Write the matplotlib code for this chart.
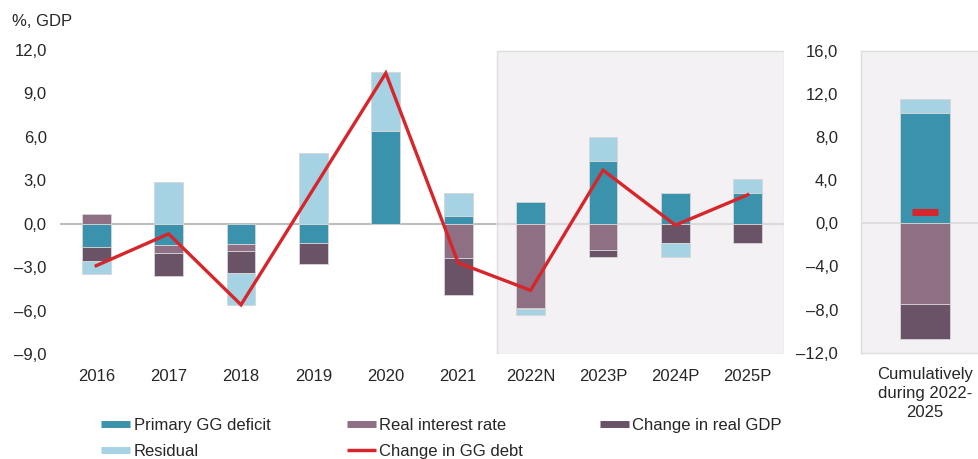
import matplotlib
matplotlib.use("Agg")
import matplotlib.pyplot as plt
import numpy as np
from matplotlib.patches import Rectangle
from matplotlib.lines import Line2D

plt.rcParams['font.family'] = ['Liberation Sans', 'DejaVu Sans']

years = ['2016', '2017', '2018', '2019', '2020', '2021', '2022N', '2023P', '2024P', '2025P']
primary = [-1.6, -1.5, -1.4, -1.3, 6.4, 0.5, 1.5, 4.3, 2.1, 2.1]
real_int = [0.7, -0.5, -0.5, 0.0, 0.0, -2.4, -5.8, -1.8, 0.0, 0.0]
gdp = [-1.0, -1.6, -1.5, -1.5, 0.0, -2.5, -0.1, -0.5, -1.3, -1.3]
residual = [-0.9, 2.9, -2.2, 4.9, 4.1, 1.6, -0.4, 1.7, -1.0, 1.0]
debt = [-2.9, -0.7, -5.6, 2.4, 10.4, -2.7, -4.6, 3.7, -0.1, 2.0]

cum_label = 'Cumulatively\nduring 2022-\n2025'
cum_primary = 10.2
cum_real_int = -7.5
cum_gdp = -3.2
cum_residual = 1.3
cum_debt = 1.0

series_names = ['Primary GG deficit', 'Real interest rate', 'Change in real GDP', 'Residual']
debt_name = 'Change in GG debt'

C_PRIM = '#3a92ad'
C_RINT = '#8e6f84'
C_GDP = '#6a5366'
C_RES = '#a6d3e3'
C_RED = '#d7262b'
C_SHADE = '#f3f1f4'
C_TXT = '#262626'
FS = 12

W, H = 979, 459
fig = plt.figure(figsize=(W / 100, H / 100), dpi=100)


def fmt(v):
    s = f"{abs(v):.1f}".replace('.', ',')
    return ('\u2013' + s) if v < 0 else s


def stack(ax, x, comps, colors, width):
    pos = np.zeros(len(x))
    neg = np.zeros(len(x))
    for vals, c in zip(comps, colors):
        v = np.array(vals, dtype=float)
        bottoms = np.where(v >= 0, pos, neg)
        ax.bar(x, v, width, bottom=bottoms, color=c, edgecolor='#d6d6d6',
               linewidth=0.6, zorder=3)
        pos = pos + np.where(v >= 0, v, 0)
        neg = neg + np.where(v < 0, v, 0)


# ---------- left axes ----------
ax = fig.add_axes([60 / W, 1 - 354 / H, 724 / W, 304 / H])
x = np.arange(len(years))
ax.set_xlim(-0.5, len(years) - 0.5)
ax.set_ylim(-9, 12)
ax.add_patch(Rectangle((5.53, -9), 9.5 - 5.53, 20.93, facecolor=C_SHADE,
                       edgecolor='#dedede', linewidth=1.0, zorder=1))
ax.axhline(0, xmin=0, xmax=(5.53 + 0.5) / 10, color='#bdbdbd', lw=1.5, zorder=2)
ax.axhline(0, xmin=(5.53 + 0.5) / 10, xmax=1, color='#dcd9dc', lw=1.5, zorder=2)
stack(ax, x, [primary, real_int, gdp, residual], [C_PRIM, C_RINT, C_GDP, C_RES], 0.4)
ax.plot(x, debt, color=C_RED, lw=2.4, zorder=4, solid_joinstyle='miter')
yt = np.arange(-9, 13, 3)
ax.set_yticks(yt)
ax.set_yticklabels([fmt(v) for v in yt], fontsize=FS, color=C_TXT)
ax.set_xticks(x)
ax.set_xticklabels(years, fontsize=FS, color=C_TXT)
ax.tick_params(length=0)
ax.tick_params(axis='y', pad=9.6)
ax.tick_params(axis='x', pad=10.5)
for s in ax.spines.values():
    s.set_visible(False)

fig.text(12 / W, 1 - 21 / H, '%, GDP', fontsize=FS, color=C_TXT, va='center', ha='left')

# ---------- right axes ----------
ax2 = fig.add_axes([861 / W, 1 - 352.7 / H, 128 / W, 302 / H])
ax2.set_facecolor(C_SHADE)
ax2.set_xlim(-0.5, 0.5)
ax2.set_ylim(-12, 16)
ax2.axhline(0, color='#dcd9dc', lw=1.2, zorder=2)
stack(ax2, [0], [[cum_primary], [cum_real_int], [cum_gdp], [cum_residual]],
      [C_PRIM, C_RINT, C_GDP, C_RES], 0.39)
ax2.plot([0], [cum_debt], marker='_', ms=19, mew=5, color=C_RED, zorder=5, ls='none')
yt2 = np.arange(-12, 17, 4)
ax2.set_yticks(yt2)
ax2.set_yticklabels([fmt(v) for v in yt2], fontsize=FS, color=C_TXT)
ax2.set_xticks([0])
ax2.set_xticklabels([cum_label], fontsize=FS, color=C_TXT, linespacing=1.37)
ax2.tick_params(length=0)
ax2.tick_params(axis='y', pad=16.5)
ax2.tick_params(axis='x', pad=10)
for k, s in ax2.spines.items():
    s.set_color('#dedede')
    s.set_linewidth(1.0)

# ---------- legend ----------
handles = [
    Line2D([], [], color=C_PRIM, lw=5, solid_capstyle='butt'),
    Line2D([], [], color=C_RES, lw=5, solid_capstyle='butt'),
    Line2D([], [], color=C_RINT, lw=5, solid_capstyle='butt'),
    Line2D([], [], color=C_RED, lw=2.5, solid_capstyle='butt'),
    Line2D([], [], color=C_GDP, lw=5, solid_capstyle='butt'),
]
labels = [series_names[0], series_names[3], series_names[1], debt_name, series_names[2]]
leg = fig.legend(handles, labels, ncol=3, loc='upper left',
                 bbox_to_anchor=(101 / W, 1 - 418 / H), frameon=False,
                 fontsize=FS, handlelength=1.75, handletextpad=0.2,
                 columnspacing=4.6, labelspacing=0.66, borderaxespad=0,
                 borderpad=0)
for t in leg.get_texts():
    t.set_color(C_TXT)

fig.savefig('out.png', dpi=100)
